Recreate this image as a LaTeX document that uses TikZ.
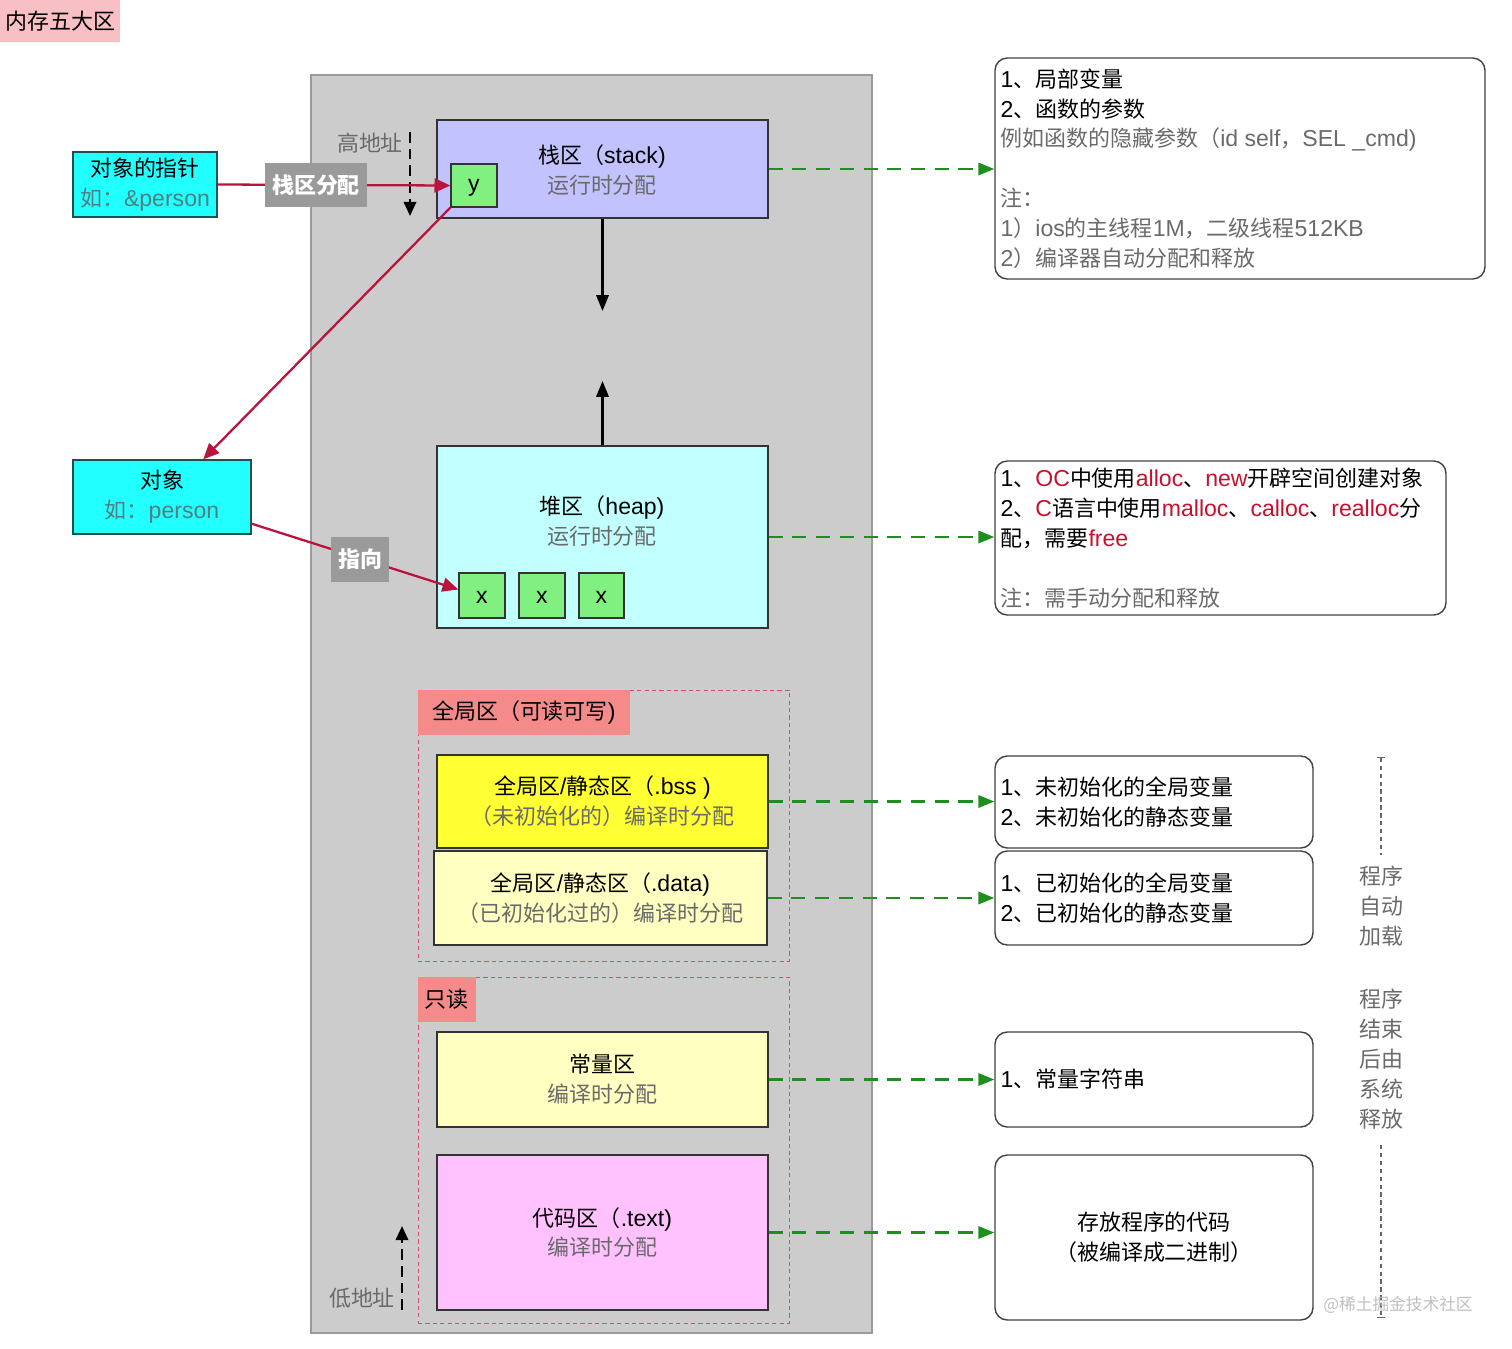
\documentclass[tikz,border=0pt]{standalone}
\usepackage{fontspec}
\setmainfont{Noto Sans CJK SC}
\newfontfamily\latf{Liberation Sans}[Scale=1.05]
\newcommand\lat[1]{{\latf #1}}
\usetikzlibrary{arrows.meta,fit,calc}
\definecolor{bgGray}{HTML}{CCCCCC}
\definecolor{frameGray}{HTML}{9A9A9A}
\definecolor{stackC}{HTML}{C2C2FF}
\definecolor{heapC}{HTML}{C2FFFF}
\definecolor{bssC}{HTML}{FFFF33}
\definecolor{paleY}{HTML}{FFFFC2}
\definecolor{codeC}{HTML}{FFC2FF}
\definecolor{greenC}{HTML}{80F080}
\definecolor{cyanC}{HTML}{22FFFF}
\definecolor{cyanSub}{HTML}{4F7F80}
\definecolor{tealD}{HTML}{1F4F4F}
\definecolor{titleC}{HTML}{F8C0C4}
\definecolor{tagC}{HTML}{F48A8A}
\definecolor{lblGray}{HTML}{9A9A9A}
\definecolor{subGray}{HTML}{6A6A6A}
\definecolor{redC}{HTML}{B8143C}
\definecolor{txtRed}{HTML}{C8102E}
\definecolor{dGreen}{HTML}{1E8F1E}
\definecolor{dashRed}{HTML}{D05070}
\begin{document}
\begin{tikzpicture}[x=0.02cm,y=-0.02cm,
  font=\fontsize{12.5}{17}\selectfont,
  box/.style={draw=black!80, line width=0.8pt, inner sep=0pt},
  rbox/.style={draw=black!75, rounded corners=7pt, line width=0.8pt, inner sep=0pt},
  region/.style={draw=dashRed, line width=0.55pt, dash pattern=on 2.4pt off 1.8pt, inner sep=0pt},
  tagbox/.style={anchor=north west, fill=tagC, inner sep=0pt},
  lbl/.style={fill=lblGray, text=white, font=\fontsize{12.5}{15}\selectfont\bfseries, inner sep=0pt},
  redarr/.style={draw=redC, line width=1.3pt, -{Triangle[length=9pt,width=8pt]}},
  blkarr/.style={draw=black, line width=1.3pt, -{Triangle[length=9pt,width=7pt]}},
  addr/.style={draw=black, line width=1.4pt, dash pattern=on 6pt off 3.5pt, -{Triangle[length=8pt,width=7pt]}},
  gdash/.style={draw=dGreen, line width=1.2pt, dash pattern=on 8pt off 5.5pt, -{Triangle[length=9pt,width=7pt]}},
  vdash/.style={draw=black!60, line width=0.6pt, dash pattern=on 2.5pt off 2pt},
  rtxt/.style={anchor=west, align=left, inner sep=0pt},
  ctxt/.style={align=center, inner sep=0pt}
]
\useasboundingbox (0,0) rectangle (1512,1349);

% title
\node[anchor=north west, fill=titleC, minimum width=120*0.2mm, minimum height=42*0.2mm, inner sep=0pt] (title) at (0,0) {内存五大区};

% memory frame
\node[fit={(311,75)(872,1333)}, fill=bgGray, draw=frameGray, line width=1.2pt, inner sep=0pt] (mem) {};

% stack
\node[box, fill=stackC, fit={(437,120)(768,218)}] (stack) {};
\node[ctxt] (stackT) at (602,170) {栈区（\lat{stack)}\\\textcolor{subGray}{运行时分配}};
\node[box, fill=greenC, fit={(451,164)(497,207)}] (ybox) {};
\node[ctxt] (yT) at ($(ybox.center)+(0,2)$) {\lat{y}};

% heap
\node[box, fill=heapC, fit={(437,446)(768,628)}] (heap) {};
\node[ctxt] (heapT) at (602,521) {堆区（\lat{heap)}\\\textcolor{subGray}{运行时分配}};
\node[box, fill=greenC, fit={(459,573)(505,618)}] (x1) {};
\node[box, fill=greenC, fit={(519,573)(565,618)}] (x2) {};
\node[box, fill=greenC, fit={(579,573)(624,618)}] (x3) {};
\node[ctxt] (x1T) at ($(x1.center)+(0,2)$) {\lat{x}};
\node[ctxt] (x2T) at ($(x2.center)+(0,2)$) {\lat{x}};
\node[ctxt] (x3T) at ($(x3.center)+(0,2)$) {\lat{x}};

% stack / heap growth arrows
\coordinate (stackEnd) at (602.5,311);
\coordinate (heapEnd) at (602.5,381);
\draw[blkarr] (stack.south) -- (stackEnd);
\draw[blkarr] (heap.north) -- (heapEnd);

% high / low address
\node[text=subGray] (hiT) at (370,143) {高地址};
\coordinate (hiA) at (410,132);
\coordinate (hiB) at (410,216);
\draw[addr] (hiA) -- (hiB);
\node[text=subGray] (loT) at (362,1298) {低地址};
\coordinate (loA) at (402,1310);
\coordinate (loB) at (402,1226);
\draw[addr] (loA) -- (loB);

% global region
\node[region, fit={(418,690)(789,961)}] (glob) {};
\node[tagbox, minimum width=212*0.2mm, minimum height=45*0.2mm] (globT) at (glob.north west) {全局区（可读可写\lat{)}};
\node[box, fill=bssC, fit={(437,755)(768,848)}] (bss) {};
\node[ctxt] (bssT) at (bss.center) {全局区\lat{/}静态区（\lat{.bss )}\\\textcolor{subGray}{（未初始化的）编译时分配}};
\node[box, fill=paleY, fit={(434,851)(767,945)}] (data) {};
\node[ctxt] (dataT) at (data.center) {全局区\lat{/}静态区（\lat{.data)}\\\textcolor{subGray}{（已初始化过的）编译时分配}};

% read-only region
\node[region, fit={(418,977)(789,1323)}] (ro) {};
\node[tagbox, minimum width=58*0.2mm, minimum height=45*0.2mm] (roT) at (ro.north west) {只读};
\node[box, fill=paleY, fit={(437,1032)(768,1127)}] (const) {};
\node[ctxt] (constT) at (const.center) {常量区\\\textcolor{subGray}{编译时分配}};
\node[box, fill=codeC, fit={(437,1155)(768,1310)}] (code) {};
\node[ctxt] (codeT) at (code.center) {代码区（\lat{.text)}\\\textcolor{subGray}{编译时分配}};

% left objects
\node[box, draw=tealD, fill=cyanC, fit={(73,152)(217,217)}] (ptr) {};
\node[ctxt] (ptrT) at (ptr.center) {对象的指针\\\textcolor{cyanSub}{如：\lat{\&person}}};
\node[box, draw=tealD, fill=cyanC, fit={(73,460)(251,534)}] (obj) {};
\node[ctxt] (objT) at (obj.center) {对象\\\textcolor{cyanSub}{如：\lat{person}}};

\draw[redarr] (ptr.east) -- (ybox.west);
\node[lbl, minimum width=102*0.2mm, minimum height=44*0.2mm] (lblA) at (316,185) {栈区分配};
\draw[redarr] (ybox.south west) -- ($(obj.north west)!0.73!(obj.north east)$);
\draw[redarr] ($(obj.south east)+(0,-11)$) -- ($(x1.west)+(0,-6)$);
\node[lbl, minimum width=58*0.2mm, minimum height=45*0.2mm] (lblB) at (360,559) {指向};

% right descriptions
\node[rbox, fit={(995,58)(1485,279)}] (r1) {};
\node[rtxt] (r1t) at ($(r1.west)+(6,0)$) {\lat{1}、局部变量\\\lat{2}、函数的参数\\\textcolor{subGray}{例如函数的隐藏参数（\lat{id self}，\lat{SEL \_cmd)}}\\\mbox{}\\\textcolor{subGray}{注：}\\\textcolor{subGray}{\lat{1}）\lat{ios}的主线程\lat{1M}，二级线程\lat{512KB}}\\\textcolor{subGray}{\lat{2}）编译器自动分配和释放}};

\node[rbox, fit={(995,461)(1446,615)}] (r2) {};
\node[rtxt] (r2t) at ($(r2.west)+(6,0)$) {\lat{1}、\textcolor{txtRed}{\lat{OC}}中使用\textcolor{txtRed}{\lat{alloc}}、\textcolor{txtRed}{\lat{new}}开辟空间创建对象\\\lat{2}、\textcolor{txtRed}{\lat{C}}语言中使用\textcolor{txtRed}{\lat{malloc}}、\textcolor{txtRed}{\lat{calloc}}、\textcolor{txtRed}{\lat{realloc}}分\\配，需要\textcolor{txtRed}{\lat{free}}\\\mbox{}\\\textcolor{subGray}{注：需手动分配和释放}};

\node[rbox, fit={(995,756)(1313,848)}] (r3) {};
\node[rtxt] (r3t) at ($(r3.west)+(6,0)$) {\lat{1}、未初始化的全局变量\\\lat{2}、未初始化的静态变量};
\node[rbox, fit={(995,851)(1313,945)}] (r4) {};
\node[rtxt] (r4t) at ($(r4.west)+(6,0)$) {\lat{1}、已初始化的全局变量\\\lat{2}、已初始化的静态变量};
\node[rbox, fit={(995,1032)(1313,1127)}] (r5) {};
\node[rtxt] (r5t) at ($(r5.west)+(6,0)$) {\lat{1}、常量字符串};
\node[rbox, fit={(995,1155)(1313,1320)}] (r6) {};
\node[ctxt] (r6t) at ($(r6.center)+(0,0)$) {存放程序的代码\\（被编译成二进制）};

% green dashed connectors
\draw[gdash] (stack.east) -- (stack.east -| r1.west);
\draw[gdash] (heap.east) -- (heap.east -| r2.west);
\draw[gdash] (bss.east) -- (bss.east -| r3.west);
\draw[gdash] (data.east) -- (data.east -| r4.west);
\draw[gdash] (const.east) -- (const.east -| r5.west);
\draw[gdash] (code.east) -- (code.east -| r6.west);

% lifetime note
\coordinate (vA) at (1381,757);
\coordinate (vB) at (1381,855);
\coordinate (vC) at (1381,1145);
\coordinate (vD) at (1381,1318);
\draw[vdash, {Bar[width=5pt,line width=0.6pt]}-] (vA) -- (vB);
\draw[vdash, -{Bar[width=5pt,line width=0.6pt]}] (vC) -- (vD);
\node[text=subGray, align=center] (vt1) at (1381,906) {程序\\自动\\加载};
\node[text=subGray, align=center] (vt2) at (1381,1059) {程序\\结束\\后由\\系统\\释放};

\node[text=black!25, font=\fontsize{9.5}{11}\selectfont] (wm) at (1398,1305) {@稀土掘金技术社区};
\end{tikzpicture}
\end{document}
